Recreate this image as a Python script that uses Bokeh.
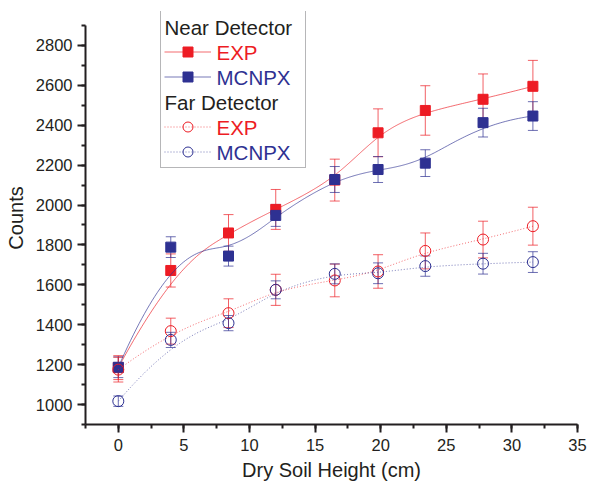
import numpy as np
from bokeh.plotting import figure
from bokeh.models import (ColumnDataSource, Whisker, TeeHead, Range1d, SingleIntervalTicker,
                          Legend, LegendItem, Label)
from bokeh.embed import file_html
from bokeh.resources import INLINE

# ---- data ----
height_cm = [0, 4, 8.4, 12, 16.5, 19.8, 23.4, 27.8, 31.6]
near_exp = [1185, 1672, 1860, 1978, 2125, 2362, 2474, 2530, 2595]
near_exp_err = [60, 83, 92, 100, 105, 120, 124, 127, 130]
near_mc = [1187, 1789, 1744, 1948, 2128, 2178, 2210, 2413, 2446]
near_mc_err = [52, 52, 50, 55, 65, 65, 67, 72, 72]
far_exp = [1175, 1368, 1458, 1575, 1622, 1667, 1770, 1827, 1894]
far_exp_err = [62, 65, 72, 78, 82, 84, 90, 92, 95]
far_mc = [1017, 1324, 1408, 1575, 1655, 1658, 1694, 1706, 1714]
far_mc_err = [26, 38, 38, 45, 50, 52, 51, 52, 52]

RED = "#ED1C24"
BLUE = "#2E3192"
AX = "#231F20"
FONT = "Liberation Sans"


def bspline(xs, ys, n=300, k=3):
    """Clamped cubic B-spline using the data points as control points (Origin 'B-Spline' connection)."""
    P = np.column_stack([xs, ys]).astype(float)
    m = len(P)
    t = np.concatenate([[0] * k, np.arange(m - k + 1), [m - k] * k]).astype(float)
    u = np.linspace(0, m - k, n)
    u[-1] -= 1e-9

    def N(i, d):
        if d == 0:
            return ((t[i] <= u) & (u < t[i + 1])).astype(float)
        a = np.zeros_like(u)
        b = np.zeros_like(u)
        if t[i + d] != t[i]:
            a = (u - t[i]) / (t[i + d] - t[i]) * N(i, d - 1)
        if t[i + d + 1] != t[i + 1]:
            b = (t[i + d + 1] - u) / (t[i + d + 1] - t[i + 1]) * N(i + 1, d - 1)
        return a + b

    B = np.array([N(i, k) for i in range(m)])
    C = B.T @ P
    return C[:, 0], C[:, 1]


p = figure(width=590, height=485, output_backend="svg", toolbar_location=None,
           x_range=Range1d(-2.5, 35), y_range=Range1d(900, 2970),
           min_border_left=85, min_border_right=13, min_border_top=11, min_border_bottom=61)
p.outline_line_color = None
p.xgrid.visible = False
p.ygrid.visible = False
p.background_fill_color = "white"

series = [
    (near_exp, near_exp_err, RED, "square", "solid", True),
    (near_mc, near_mc_err, BLUE, "square", "solid", True),
    (far_exp, far_exp_err, RED, "circle", "1 2", False),
    (far_mc, far_mc_err, BLUE, "circle", "1 2", False),
]

rend = []
for vals, errs, col, mk, dash, filled in series:
    v = np.array(vals, float)
    e = np.array(errs, float)
    src = ColumnDataSource(dict(x=height_cm, y=vals, upper=list(v + e), lower=list(v - e)))
    cx, cy = bspline(height_cm, vals)
    ln = p.line(cx, cy, line_color=col, line_alpha=0.65, line_width=1, line_dash=dash)
    w = Whisker(source=src, base="x", upper="upper", lower="lower", dimension="height",
                line_color=col, line_alpha=0.7, line_width=1,
                upper_head=TeeHead(size=10, line_color=col, line_alpha=0.7, line_width=1),
                lower_head=TeeHead(size=10, line_color=col, line_alpha=0.7, line_width=1))
    p.add_layout(w)
    if filled:
        sc = p.scatter("x", "y", source=src, marker=mk, size=10, fill_color=col, line_color=col)
    else:
        sc = p.scatter("x", "y", source=src, marker=mk, size=11, fill_alpha=0,
                       line_color=col, line_width=1)
    rend.append([ln, sc])

# axes
for ax in (p.xaxis[0], p.yaxis[0]):
    ax.axis_line_color = AX
    ax.axis_line_width = 2
    ax.major_tick_line_color = AX
    ax.minor_tick_line_color = AX
    ax.major_tick_line_width = 2
    ax.minor_tick_line_width = 2
    ax.major_tick_in = 0
    ax.major_tick_out = 8
    ax.minor_tick_in = 0
    ax.minor_tick_out = 4
    ax.major_label_text_font = FONT
    ax.major_label_text_font_size = "16.5px"
    ax.major_label_text_color = AX
    ax.axis_label_text_font = FONT
    ax.axis_label_text_font_size = "20px"
    ax.axis_label_text_font_style = "normal"
    ax.axis_label_text_color = AX

p.xaxis[0].ticker = SingleIntervalTicker(interval=5, num_minor_ticks=2)
p.yaxis[0].ticker = SingleIntervalTicker(interval=200, num_minor_ticks=2)
p.yaxis[0].bounds = (900, 2900)
p.xaxis[0].axis_label = "Dry Soil Height (cm)"
p.yaxis[0].axis_label = "Counts"
p.xaxis[0].major_label_standoff = 6
p.yaxis[0].major_label_standoff = 5
p.xaxis[0].axis_label_standoff = 5
p.yaxis[0].axis_label_standoff = 6

# legend (glyphs + box); texts added as labels so each can carry its own colour
items = [
    LegendItem(label=" ", renderers=[]),
    LegendItem(label="EXP", renderers=rend[0]),
    LegendItem(label="MCNPX", renderers=rend[1]),
    LegendItem(label=" ", renderers=[]),
    LegendItem(label="EXP", renderers=rend[2]),
    LegendItem(label="MCNPX", renderers=rend[3]),
]
leg = Legend(items=items, location=(75, 256), padding=3, margin=0, spacing=0,
             glyph_width=47, glyph_height=25, label_height=25, label_width=85,
             label_standoff=6, label_text_alpha=0, label_text_font_size="10px",
             border_line_color="#6D6E71", border_line_width=1,
             background_fill_color="white", background_fill_alpha=0)
p.add_layout(leg)

leg_texts = [("Near Detector", AX, 79), ("EXP", RED, 131), ("MCNPX", BLUE, 131),
             ("Far Detector", AX, 79), ("EXP", RED, 131), ("MCNPX", BLUE, 131)]
for i, (txt, col, lx) in enumerate(leg_texts):
    p.add_layout(Label(x=lx, y=397.5 - 25 * i, x_units="screen", y_units="screen", text=txt,
                       text_color=col, text_font=FONT, level="overlay",
                       text_font_size="20.5px", text_baseline="middle", text_align="left"))

open("out.html", "w").write(file_html(p, INLINE))
